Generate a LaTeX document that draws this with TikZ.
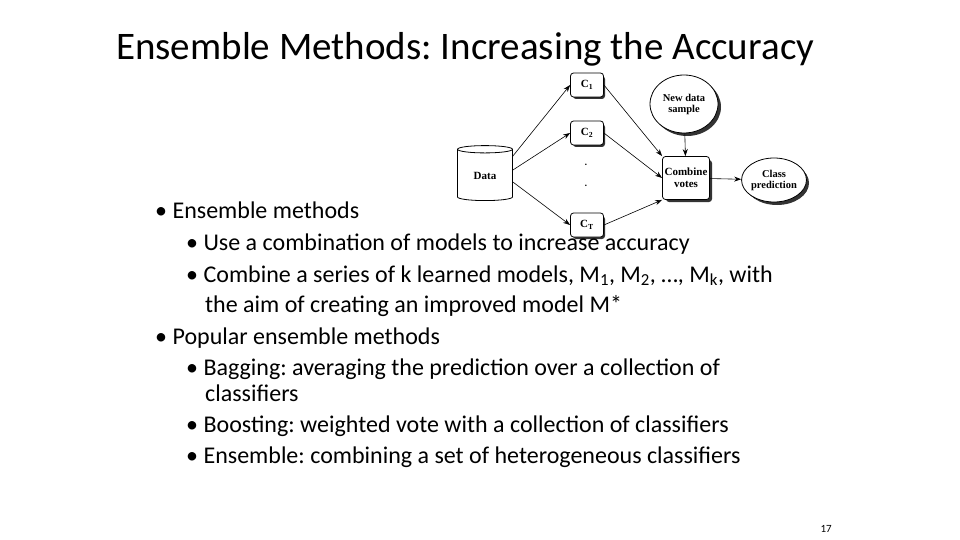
\documentclass[tikz,border=0pt]{standalone}
\usepackage{fontspec}
\setmainfont{Carlito}
\newfontfamily\diag{Liberation Serif}
\usetikzlibrary{shapes.geometric,arrows.meta}
\frenchspacing
\begin{document}
\begin{tikzpicture}[x=1pt,y=-1pt,
  box/.style={draw,thick,rounded corners=3pt,fill=white,font=\diag\bfseries\fontsize{11}{12}\selectfont,align=center,inner sep=1pt},
  ell/.style={draw,thick,ellipse,fill=white,font=\diag\bfseries\fontsize{10.5}{11}\selectfont,align=center,inner sep=0pt},
  shad/.style={fill=black!80},
  arr/.style={-{Stealth[length=7pt,width=5pt]},semithick},
  body/.style={anchor=base west,font=\fontsize{24}{26}\selectfont,inner sep=0pt}]
\useasboundingbox (0,0) rectangle (960,540);
% title
\node[anchor=base west,font=\fontsize{39}{40}\selectfont,inner sep=0pt] (title) at (116,60) {Ensemble Methods: Increasing the Accuracy};
% data cylinder
\node[draw,thick,cylinder,shape border rotate=90,aspect=0.25,minimum width=55pt,minimum height=55pt,fill=white,font=\diag\bfseries\fontsize{11}{12}\selectfont] (data) at (485,176) {Data};
% classifiers
\fill[shad,rounded corners=3pt] (573,76) rectangle (605,99);
\node[box,minimum width=33pt,minimum height=24pt] (c1) at (587,85) {C\textsubscript{1}};
\fill[shad,rounded corners=3pt] (573,124) rectangle (605,147);
\node[box,minimum width=33pt,minimum height=24pt] (c2) at (587,133) {C\textsubscript{2}};
\fill[shad,rounded corners=3pt] (573,216) rectangle (605,239);
\node[box,minimum width=33pt,minimum height=24pt] (ct) at (587,225) {C\textsubscript{T}};
\node[font=\bfseries] (d1) at (586,165) {.};
\node[font=\bfseries] (d2) at (586,186) {.};
% combine
\fill[shad,rounded corners=3pt] (666,160) rectangle (712,202);
\node[box,minimum width=47pt,minimum height=43pt] (comb) at (686,178) {Combine\\votes};
% new data
\fill[shad] (687,107) ellipse (34pt and 29pt);
\node[ell,minimum width=68pt,minimum height=58pt] (new) at (684,104) {New data\\sample};
% class prediction
\fill[shad] (777,183) ellipse (32pt and 22pt);
\node[ell,minimum width=64pt,minimum height=44pt] (cls) at (774,180) {Class\\prediction};
% arrows
\draw[arr] (data.north east) ++(0,8) -- (c1.west);
\draw[arr] (data.east) ++(0,-6) -- (c2.west);
\draw[arr] (data.east) ++(0,6) -- (ct.west);
\draw[arr] (c1.east) -- (comb.north west);
\draw[arr] (c2.east) -- (comb.west);
\draw[arr] (ct.east) -- (comb.south west);
\draw[arr] (new) -- (comb);
\draw[arr] (comb) -- (cls);
% body text
\node[body] (b1) at (155,218) {• Ensemble methods};
\node[body] (b2) at (186,250) {• Use a combination of models to increase accuracy};
\node[body] (b3) at (186,282) {• Combine a series of k learned models, M\textsubscript{1}, M\textsubscript{2}, …, M\textsubscript{k}, with};
\node[body] (b3b) at (205,312) {the aim of creating an improved model M*};
\node[body] (b4) at (155,344) {• Popular ensemble methods};
\node[body] (b5) at (186,375) {• Bagging: averaging the prediction over a collection of};
\node[body] (b5b) at (205,401) {classifiers};
\node[body] (b6) at (186,432) {• Boosting: weighted vote with a collection of classifiers};
\node[body] (b7) at (186,463) {• Ensemble: combining a set of heterogeneous classifiers};
\node[anchor=base east,font=\fontsize{11}{12}\selectfont,inner sep=0pt] (pg) at (832,532) {17};
\end{tikzpicture}
\end{document}
